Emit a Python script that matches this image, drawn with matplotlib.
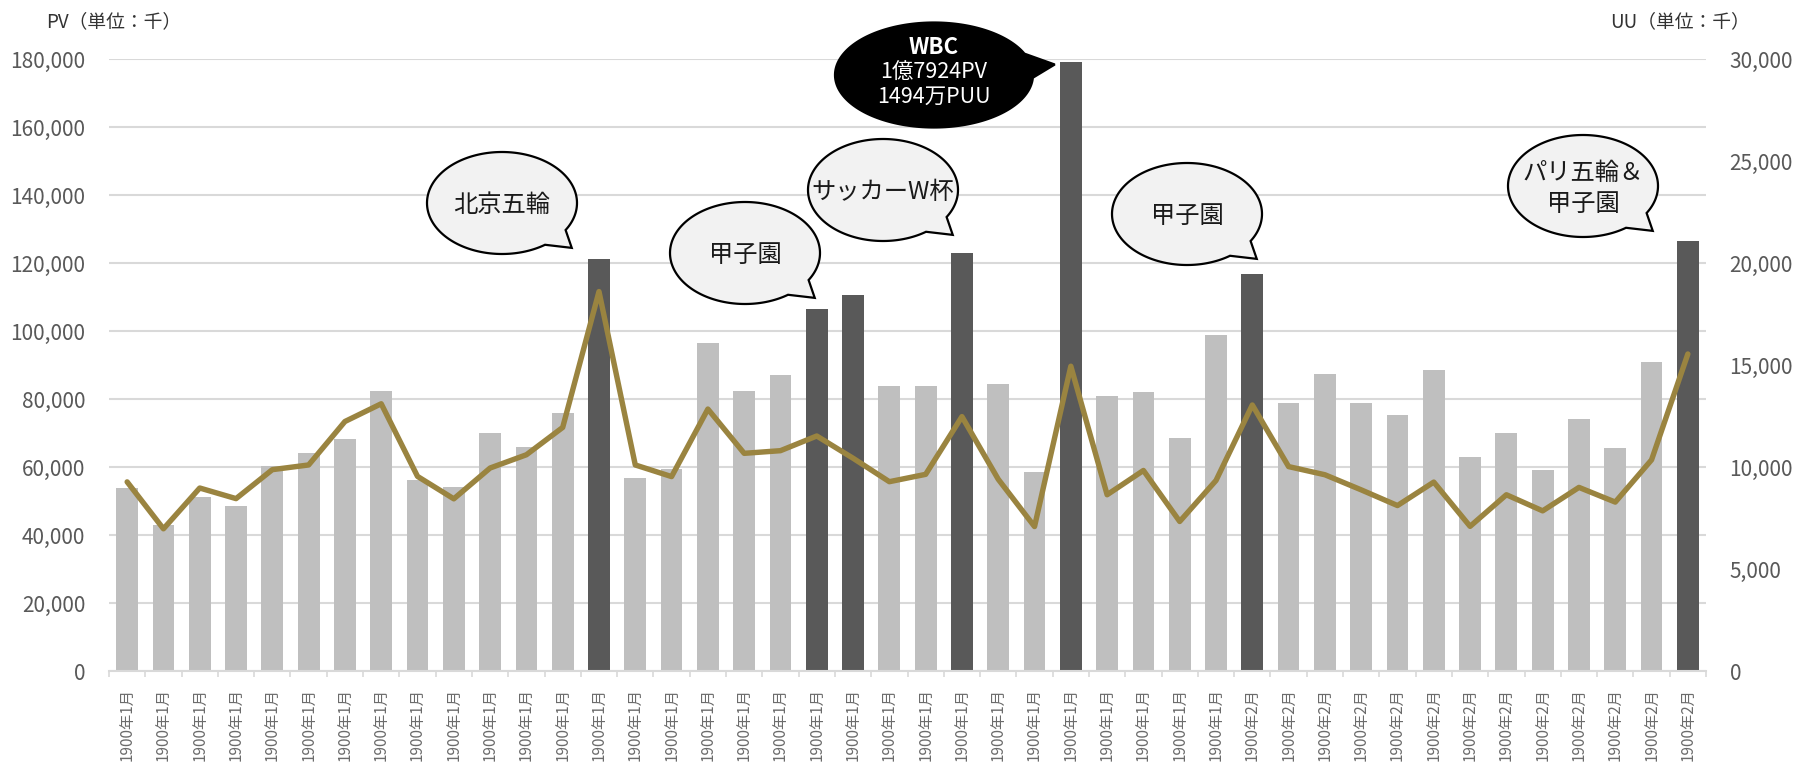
import numpy as np
import matplotlib
matplotlib.use("Agg")
import matplotlib.pyplot as plt
from matplotlib.patches import Polygon

plt.rcParams['font.family'] = ['Noto Sans CJK JP', 'DejaVu Sans']

# ---------------- data ----------------
months = (['1900年1月'] * 31) + (['1900年2月'] * 13)
pv = [53700, 42900, 51200, 48400, 60300, 64200, 68300, 82500, 56300, 54100,
      70100, 66000, 75900, 121200, 56800, 59400, 96500, 82300, 87000, 106500,
      110600, 83900, 83800, 122900, 84300, 58600, 179240, 81000, 82100, 68400,
      98800, 116700, 78900, 87300, 78700, 75300, 88400, 63000, 70100, 59200,
      74200, 65600, 90800, 126400]
uu = [9270, 6970, 8970, 8450, 9870, 10100, 12230, 13100, 9540, 8440,
      9950, 10600, 11940, 18600, 10100, 9530, 12840, 10670, 10800, 11520,
      10430, 9280, 9640, 12470, 9400, 7080, 14940, 8640, 9830, 7330,
      9340, 13040, 10020, 9620, 8880, 8110, 9260, 7090, 8640, 7850,
      9000, 8280, 10350, 15540]
highlight = [13, 19, 20, 23, 26, 31, 43]
pv_ticks = [0, 20000, 40000, 60000, 80000, 100000, 120000, 140000, 160000, 180000]
uu_ticks = [0, 5000, 10000, 15000, 20000, 25000, 30000]

# callouts: (text, center_x, center_y) in figure pixels
callouts = [
    ('北京五輪', 502, 203),
    ('甲子園', 745, 253),
    ('サッカーW杯', 883, 190),
    ('甲子園', 1187, 214),
    ('パリ五輪＆\n甲子園', 1583, 186),
]

# ---------------- figure ----------------
W, H, DPI = 1803, 763, 100
fig = plt.figure(figsize=(W / DPI, H / DPI), dpi=DPI)
L, R, T, B = 109, 1706, 59, 671
ax = fig.add_axes([L / W, 1 - B / H, (R - L) / W, (B - T) / H])

LIGHT = '#BFBFBF'
DARK = '#595959'
GRID = '#D9D9D9'
TXT = '#595959'
GOLD = '#9A8440'

x = np.arange(len(pv))
colors = [DARK if i in highlight else LIGHT for i in x]
ax.bar(x, pv, width=0.6, color=colors, zorder=2)
ax.set_xlim(-0.5, len(pv) - 0.5)
ax.set_ylim(0, 180000)
ax.set_yticks(pv_ticks)
ax.set_yticklabels([f'{v:,}' for v in pv_ticks])
ax.yaxis.grid(True, color=GRID, lw=1.5, zorder=0)
ax.set_axisbelow(True)
for s in ['top', 'right', 'left']:
    ax.spines[s].set_visible(False)
ax.spines['bottom'].set_color(GRID)
ax.spines['bottom'].set_linewidth(1.5)
ax.tick_params(axis='y', length=0, pad=17, labelsize=15, labelcolor=TXT)
ax.set_xticks(x)
ax.set_xticklabels(months, rotation=90, fontsize=11, color='#6b6b6b')
ax.tick_params(axis='x', which='major', length=0, pad=12)
ax.set_xticks(np.arange(-0.5, len(pv)), minor=True)
ax.tick_params(axis='x', which='minor', length=4.5, width=1.2, color=GRID)

ax2 = ax.twinx()
ax2.plot(x, uu, color=GOLD, lw=3.9, solid_joinstyle='round', solid_capstyle='round', zorder=3)
ax2.set_ylim(0, 30000)
ax2.set_yticks(uu_ticks)
ax2.set_yticklabels([f'{v:,}' for v in uu_ticks])
ax2.tick_params(axis='y', length=0, pad=17, labelsize=15, labelcolor=TXT)
for s in ['top', 'right', 'left', 'bottom']:
    ax2.spines[s].set_visible(False)

fig.text(46 / W, 1 - 22 / H, 'PV（単位：千）', fontsize=13.5, color='#333333',
         ha='left', va='center')
fig.text(1750 / W, 1 - 22 / H, 'UU（単位：千）', fontsize=13.5, color='#333333',
         ha='right', va='center')

# ---------------- callouts overlay ----------------
ov = fig.add_axes([0, 0, 1, 1])
ov.set_xlim(0, W)
ov.set_ylim(H, 0)
ov.axis('off')


def balloon(cx, cy, a, b, t1, t2, tip, fc, ec):
    ts = np.radians(np.linspace(t2, t1 + 360, 200))
    pts = [(cx + a * np.cos(t), cy + b * np.sin(t)) for t in ts]
    pts.append((cx + tip[0] * a, cy + tip[1] * b))
    ov.add_patch(Polygon(pts, closed=True, fc=fc, ec=ec, lw=1.6, zorder=5,
                         joinstyle='miter'))


for txt, cx, cy in callouts:
    balloon(cx, cy, 75, 51, 32, 55, (0.93, 0.88), '#F2F2F2', 'black')
    ov.text(cx, cy + 2, txt, ha='center', va='center', fontsize=17.5,
            color='#1a1a1a', zorder=6, linespacing=1.25)

# WBC callout
bx, by = 934, 75
balloon(bx, by, 99, 52.5, -24, 3, (1.22, -0.2), 'black', 'black')
ov.text(bx, by - 28, 'WBC', ha='center', va='center', fontsize=16,
        fontweight='bold', color='white', zorder=6)
ov.text(bx, by - 2, '1億7924PV', ha='center', va='center', fontsize=15.5,
        color='white', zorder=6)
ov.text(bx, by + 22, '1494万PUU', ha='center', va='center', fontsize=15.5,
        color='white', zorder=6)

fig.savefig('out.png', dpi=DPI)
